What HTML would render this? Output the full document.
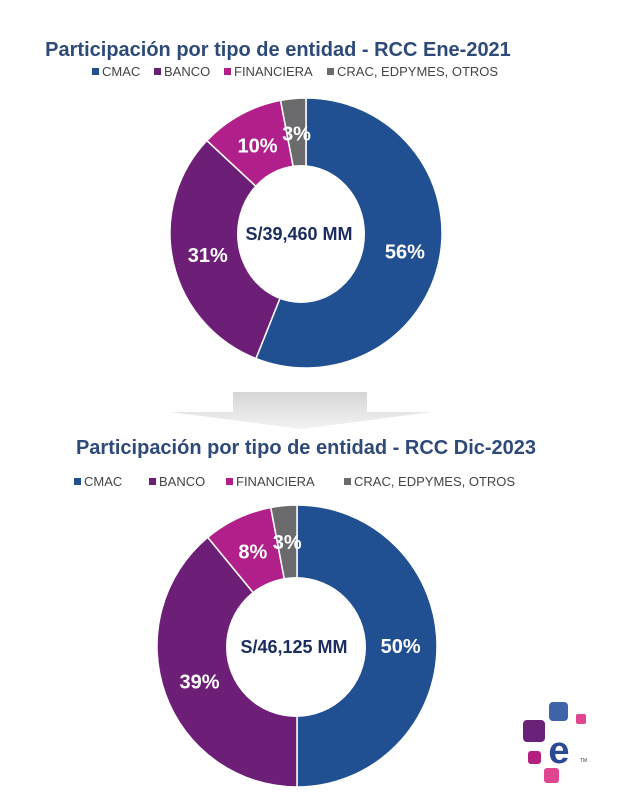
<!DOCTYPE html>
<html><head><meta charset="utf-8"><style>
body{margin:0;width:620px;height:812px;background:#fff;overflow:hidden;font-family:"Liberation Sans",sans-serif}
svg{position:absolute;left:0;top:0}
</style></head><body>
<svg width="620" height="812">
<defs><linearGradient id="ag" x1="0" y1="0" x2="0" y2="1"><stop offset="0" stop-color="#d6d6d6"/><stop offset="1" stop-color="#f2f2f2"/></linearGradient></defs>
<text x="278" y="56" text-anchor="middle" font-size="20" font-weight="bold" fill="#2e4a78">Participación por tipo de entidad - RCC Ene-2021</text>
<text x="306" y="454" text-anchor="middle" font-size="20" font-weight="bold" fill="#2e4a78">Participación por tipo de entidad - RCC Dic-2023</text>
<g id="leg1"></g>
<g id="leg2"></g>
<path d="M233 392 H367 V412 H432 L301 429 L170 412 H233 Z" fill="url(#ag)"/>
<g id="d1"></g>
<g id="d2"></g>
<g>
<rect x="549" y="702" width="19" height="19" rx="4" fill="#3f64a8"/>
<rect x="576" y="714" width="10" height="10" rx="2" fill="#e0468f"/>
<rect x="523" y="720" width="22" height="22" rx="4" fill="#6a2278"/>
<rect x="528" y="751" width="13" height="13" rx="3" fill="#b3207e"/>
<rect x="544" y="768" width="15" height="15" rx="3" fill="#e0468f"/>
<text x="559" y="763" text-anchor="middle" font-size="38" font-weight="bold" fill="#2b4a96">e</text>
<text x="580" y="762" font-size="5" fill="#444">TM</text>
</g>
</svg>
<script>
const categories=["CMAC","BANCO","FINANCIERA","CRAC, EDPYMES, OTROS"];
const colors=["#204f92","#6d1f78","#b1208a","#6b6b6e"];
const values2021=[56,31,10,3];
const values2023=[50,39,8,3];
const totals=["S/39,460 MM","S/46,125 MM"];
const NS="http://www.w3.org/2000/svg";
function mk(t,a,p){const e=document.createElementNS(NS,t);for(const k in a)e.setAttribute(k,a[k]);p.appendChild(e);return e;}
function legend(g,y,xs,fs){
 categories.forEach((c,i)=>{
  const r=mk('rect',{x:xs[i],y:y-8,width:7,height:7,fill:colors[i]},g);
  
  
  const t=mk('text',{x:xs[i]+10,y:y,'font-size':fs,fill:'#444'},g);
  t.textContent=c;
  
  
 });
}
legend(document.getElementById('leg1'),76,[92,154,224,327],13);
legend(document.getElementById('leg2'),486,[74,149,226,344],13);
function donut(g,vals,cx,cy,rx,ry,hx,hy,hrx,hry,lr,total){
 const sum=vals.reduce((a,b)=>a+b,0);let a0=0;const labels=[];
 vals.forEach((v,i)=>{
  const a1=a0+v/sum*2*Math.PI;
  const p=a=>[cx+rx*Math.sin(a),cy-ry*Math.cos(a)];
  const [x0,y0]=p(a0),[x1,y1]=p(a1);
  const large=(a1-a0)>Math.PI?1:0;
  const s=mk('path',{d:`M${cx} ${cy} L${x0} ${y0} A${rx} ${ry} 0 ${large} 1 ${x1} ${y1} Z`,fill:colors[i],stroke:'#fff','stroke-width':1.5},g);
  
  
  const am=(a0+a1)/2;
  labels.push([cx+rx*lr*Math.sin(am),cy-ry*lr*Math.cos(am),v]);
  a0=a1;
 });
 const h=mk('ellipse',{cx:hx,cy:hy,rx:hrx,ry:hry,fill:'#fff'},g);
 
 
 labels.forEach(([lx,ly,v])=>{
  const t=mk('text',{x:lx,y:ly+7,'text-anchor':'middle','font-size':20,'font-weight':'bold',fill:'#fff'},g);
  t.textContent=v+'%';
  
  
 });
 const t=mk('text',{x:hx-2,y:hy+6,'text-anchor':'middle','font-size':18,'font-weight':'bold',fill:'#1a2d5e'},g);
 t.textContent=total;
 
 
}
donut(document.getElementById('d1'),values2021,306,233,136,135,301,234,64,69,0.74,totals[0]);
donut(document.getElementById('d2'),values2023,297,646,140,141,296,647,70,70,0.74,totals[1]);
</script>
</body></html>
